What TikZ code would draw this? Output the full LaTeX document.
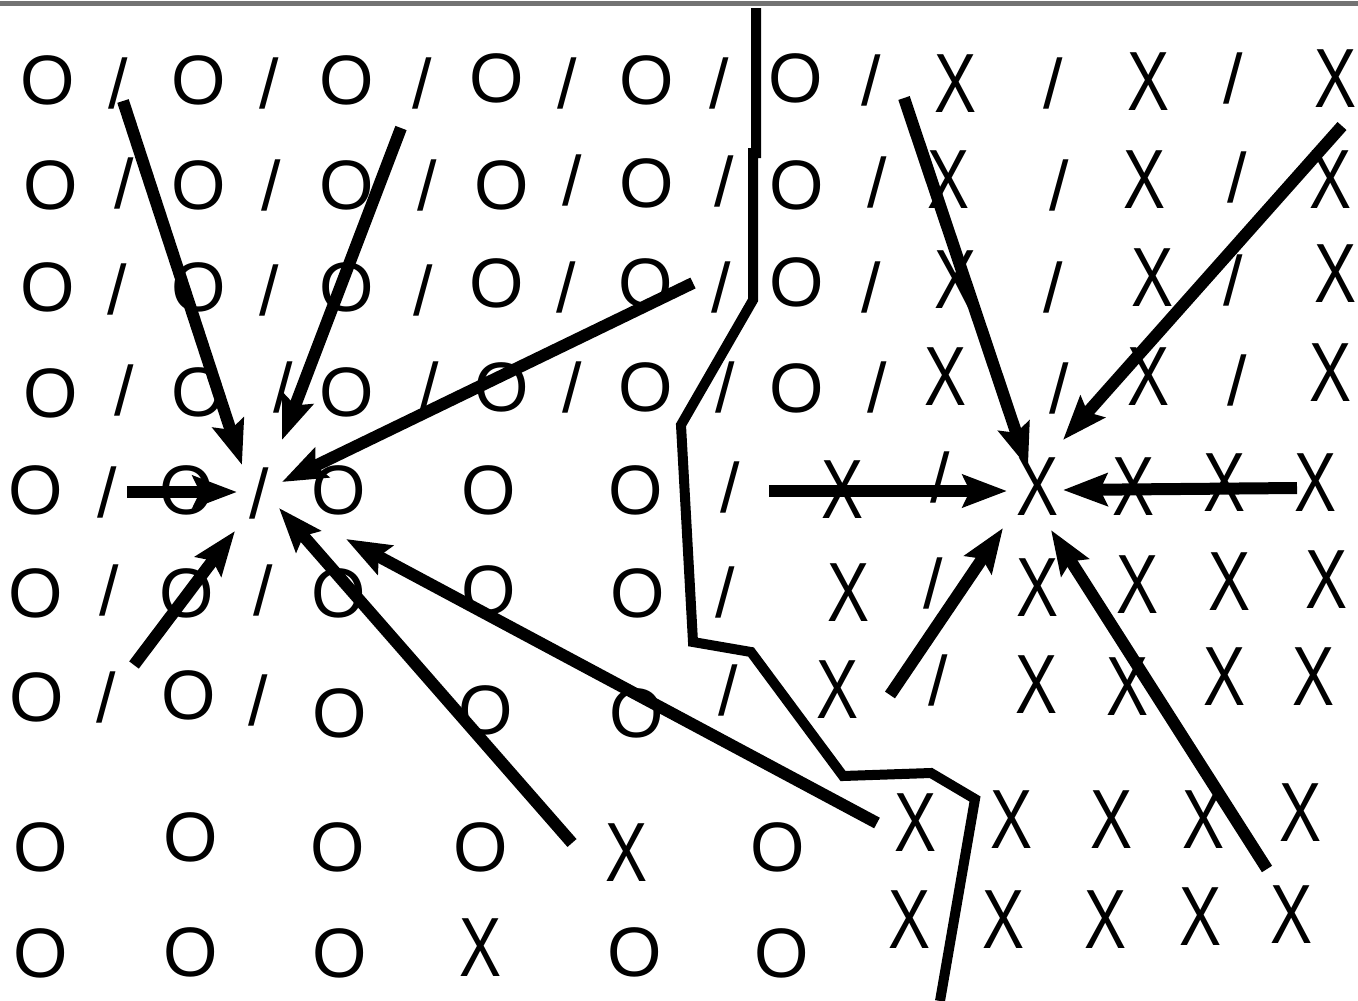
\documentclass[tikz,border=0pt]{standalone}
\usepackage{fontspec}
\setmainfont{Liberation Sans}
\usetikzlibrary{arrows.meta}
\newcommand{\mkO}{O}
\newcommand{\mkS}{/}
\newcommand{\mkX}{\scalebox{0.9}[1.2]{X}}
\begin{document}
\begin{tikzpicture}[x=1pt,y=-1pt,
  sym/.style={inner sep=0pt, font=\fontsize{70}{70}\selectfont},
  arr/.style={line width=12pt, -{Stealth[length=44pt,width=32pt,inset=7pt]}},
  border/.style={line width=10pt, line join=miter},
  topbar/.style={line width=5pt, draw=black!55}]
\useasboundingbox (0,0) rectangle (1358,1001);
\clip (0,0) rectangle (1358,1001);
\fill[white] (0,0) rectangle (1358,1001);
\draw[topbar] (0,3) -- (1358,3);
% grid of symbols
\foreach \t/\x/\y [count=\i] in {
 O/48/80, S/118/83, O/199/80, S/269/83, O/347/80, S/422/83, O/497/78, S/567/83, O/647/80, S/719/83, O/796/78, S/871/80, X/955/84, S/1053/83, X/1148/82, S/1233/78, X/1335/79,
 O/51/185, S/124/183, O/199/185, S/271/185, O/347/185, S/427/185, O/502/185, S/572/180, O/647/183, S/724/181, O/797/185, S/877/182, X/949/180, S/1059/185, X/1144/180, S/1237/177, X/1330/180,
 O/48/287, S/117/289, O/199/287, S/269/290, O/347/287, S/423/290, O/497/283, S/566/287, O/646/283, S/721/287, O/797/282, S/871/287, X/955/280, S/1053/287, X/1152/278, S/1233/280, X/1335/274,
 O/51/393, S/124/390, O/199/392, S/283/387, O/347/392, S/429/387, O/502/387, S/572/387, O/646/387, S/725/387, O/797/388, S/877/387, X/946/377, S/1059/388, X/1148/377, S/1237/380, X/1330/373,
 O/36/490, S/107/492, O/187/490, S/259/493, O/339/490, O/489/490, O/636/490, S/730/487, X/843/490, S/940/477, X/1038/487, X/1133/487, X/1224/483, X/1315/483,
 O/36/593, S/109/590, O/187/593, S/263/590, O/339/593, O/489/590, O/638/593, S/725/592, X/849/593, S/933/583, X/1038/588, X/1137/585, X/1229/582, X/1326/580,
 O/37/697, S/106/697, O/189/695, S/258/700, O/340/713, O/486/710, O/637/713, S/728/690, X/838/690, S/938/680, X/1036/685, X/1127/687, X/1224/677, X/1313/677,
 O/41/847, O/191/837, O/338/847, O/481/847, X/627/853, O/778/847, X/916/823, X/1012/820, X/1111/820, X/1203/820, X/1300/813,
 O/41/953, O/191/952, O/340/953, X/481/948, O/635/952, O/782/953, X/910/920, X/1003/920, X/1105/920, X/1200/917, X/1291/915}
 \node[sym] (n\i) at (\x,\y) {\csname mk\t\endcsname};
% boundary line
\coordinate (b0) at (756,8);
\coordinate (b1) at (756,153);
\coordinate (b2) at (753,153);
\coordinate (b3) at (753,300);
\coordinate (b4) at (681,425);
\coordinate (b5) at (693,642);
\coordinate (b6) at (751,652);
\coordinate (b7) at (843,776);
\coordinate (b8) at (931,773);
\coordinate (b9) at (975,799);
\coordinate (b10) at (940,1001);
\draw[border] (b0) -- (b1) -- (b2) -- (b3) -- (b4) -- (b5) -- (b6) -- (b7) -- (b8) -- (b9) -- (b10);
% left converging arrows
\coordinate (l1s) at (123,101); \coordinate (l1e) at (242,465);
\coordinate (l2s) at (401,128); \coordinate (l2e) at (282,440);
\coordinate (l3s) at (693,283); \coordinate (l3e) at (282,482);
\coordinate (l4s) at (127,492); \coordinate (l4e) at (237,492);
\coordinate (l5s) at (134,665); \coordinate (l5e) at (235,531);
\coordinate (l6s) at (572,843); \coordinate (l6e) at (279,508);
\coordinate (l7s) at (877,823); \coordinate (l7e) at (346,539);
\foreach \k in {1,...,7} \draw[arr] (l\k s) -- (l\k e);
% right converging arrows
\coordinate (r1s) at (904,98); \coordinate (r1e) at (1028,468);
\coordinate (r2s) at (1342,126); \coordinate (r2e) at (1063,440);
\coordinate (r3s) at (769,491); \coordinate (r3e) at (1007,491);
\coordinate (r4s) at (1297,488); \coordinate (r4e) at (1063,490);
\coordinate (r5s) at (890,695); \coordinate (r5e) at (1003,528);
\coordinate (r6s) at (1267,869); \coordinate (r6e) at (1051,530);
\foreach \k in {1,...,6} \draw[arr] (r\k s) -- (r\k e);
\end{tikzpicture}
\end{document}
